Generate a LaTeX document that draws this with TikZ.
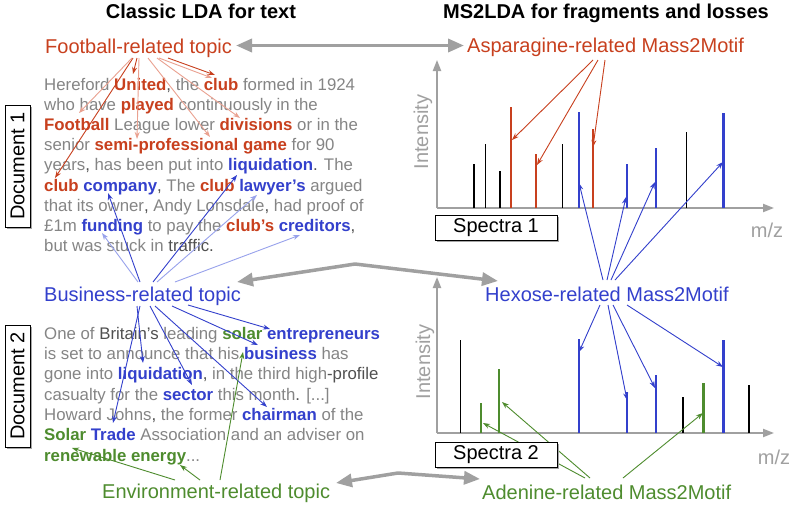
\documentclass[tikz,border=0pt]{standalone}
\usepackage{fontspec}
\setmainfont{Liberation Sans}
\usetikzlibrary{arrows.meta}
\definecolor{tgray}{HTML}{858585}
\definecolor{dkgray}{HTML}{505050}
\definecolor{myred}{HTML}{C8401E}
\definecolor{myblue}{HTML}{3340CC}
\definecolor{mygreen}{HTML}{4E8C2E}
\definecolor{palered}{HTML}{EAA190}
\definecolor{paleblue}{HTML}{98A2EC}
\definecolor{agray}{HTML}{A0A0A0}
\newcommand\rw[1]{\textcolor{myred}{\bfseries #1}}
\newcommand\bw[1]{\textcolor{myblue}{\bfseries #1}}
\newcommand\gw[1]{\textcolor{mygreen}{\bfseries #1}}
\newcommand\dk[1]{\textcolor{dkgray}{#1}}
\begin{document}
\begin{tikzpicture}[x=1pt,y=-1pt,
  txt/.style={anchor=base west,inner sep=0pt,font=\fontsize{16.8}{20}\selectfont,text=tgray},
  title/.style={anchor=base,inner sep=0pt,font=\fontsize{20}{24}\selectfont\bfseries},
  topic/.style={anchor=base west,inner sep=0pt,font=\fontsize{20}{24}\selectfont},
  lbl/.style={inner sep=0pt,font=\fontsize{20}{24}\selectfont},
  thin/.style={line width=0.9pt,-{Stealth[length=7pt,width=5pt]}},
  big/.style={draw=agray,line width=3.5pt,line join=round,{Triangle[length=16pt,width=13pt]}-{Triangle[length=16pt,width=13pt]}},
  axis/.style={draw=agray,line width=2pt,-{Triangle[length=11pt,width=8pt]}},
  bpk/.style={draw=black,line width=1.1pt},
  cpk/.style={line width=2.4pt},
  box/.style={draw=black,line width=0.8pt,fill=white,inner sep=0pt,font=\fontsize{20}{24}\selectfont},
  shadow/.style={fill=black!35},
]
\useasboundingbox (0,0) rectangle (793,504);
\fill[white] (0,0) rectangle (793,504);

% titles
\node[title] (t1) at (201,18.3) {Classic LDA for text};
\node[title] (t2) at (606,18.3) {MS2LDA for fragments and losses};

% topic labels
\node[topic,text=myred] (foot) at (45,53) {Football-related topic};
\node[topic,text=myblue] (bus) at (44,301) {Business-related topic};
\node[topic,text=mygreen] (env) at (102,498.5) {Environment-related topic};
\node[topic,text=myred] (asp) at (467,52.3) {Asparagine-related Mass2Motif};
\node[topic,text=myblue] (hex) at (485,301) {Hexose-related Mass2Motif};
\node[topic,text=mygreen] (ade) at (482,499.3) {Adenine-related Mass2Motif};

% document 1
\node[txt] (a1) at (44,90.5) {Hereford \rw{United}\dk{,} the \rw{club} formed in 1924};
\node[txt] (a2) at (44,110.6) {who have \rw{played} continuously in the};
\node[txt] (a3) at (44,130.7) {\rw{Football} League lower \rw{divisions} or in the};
\node[txt] (a4) at (44,150.8) {senior \rw{semi-professional game} for 90};
\node[txt] (a5) at (44,170.9) {years\dk{,} has been put into \bw{liquidation}\dk{.} The};
\node[txt] (a6) at (44,191.0) {\rw{club} \bw{company}\dk{,} The \rw{club} \bw{lawyer’s} argued};
\node[txt] (a7) at (44,211.1) {that its owner\dk{,} Andy Lonsdale\dk{,} had proof of};
\node[txt] (a8) at (44,231.2) {£1m \bw{funding} to pay the \rw{club’s} \bw{creditors}\dk{,}};
\node[txt] (a9) at (44,251.3) {but was stuck in \dk{traffic.}};

% document 2
\node[txt] (b1) at (44,339.3) {One of \dk{Britain’s} leading \gw{solar} \bw{entrepreneurs}};
\node[txt] (b2) at (44,359.6) {is set to announce that his \bw{business} has};
\node[txt] (b3) at (44,379.9) {gone into \bw{liquidation}\dk{,} in the third high\dk{-profile}};
\node[txt] (b4) at (44,400.1) {casualty for the \bw{sector} this month\dk{.} [...]};
\node[txt] (b5) at (44,420.4) {Howard Johns\dk{,} the former \bw{chairman} of the};
\node[txt] (b6) at (44,440.7) {\gw{Solar} \bw{Trade} Association and an adviser on};
\node[txt] (b7) at (44,461.0) {\gw{renewable energy}...};

% document boxes
\fill[shadow] (6.5,106.5) rectangle (31.5,228.5);
\node[box,rotate=90,minimum width=122pt,minimum height=25pt] (doc1) at (17.5,166) {Document 1};
\fill[shadow] (6.5,326.5) rectangle (31.5,448.5);
\node[box,rotate=90,minimum width=122pt,minimum height=25pt] (doc2) at (17.5,386) {Document 2};

% axes
\coordinate (o1) at (437,208); \coordinate (y1) at (437,60); \coordinate (x1) at (774,208);
\coordinate (o2) at (437,433); \coordinate (y2) at (437,277); \coordinate (x2) at (774,433);
\draw[axis] (o1) -- (y1);
\draw[axis] (o1) -- (x1);
\draw[axis] (o2) -- (y2);
\draw[axis] (o2) -- (x2);
\node[lbl,text=agray,rotate=90] (int1) at (423,132) {Intensity};
\node[lbl,text=agray,rotate=90] (int2) at (425,362) {Intensity};
\node[lbl,text=agray] (mz1) at (767,230) {m/z};
\node[lbl,text=agray] (mz2) at (774,457) {m/z};

% peaks spectrum 1
\foreach \x/\h in {474/164,485.7/144,500/171,562.7/144,686.3/132}
  \draw[bpk] (\x,208) -- (\x,\h);
\foreach \x/\h in {510.7/107,535.7/154,592.7/129}
  \draw[cpk,myred] (\x,208) -- (\x,\h);
\foreach \x/\h in {578.7/112,627/164,655.7/148,723.3/113}
  \draw[cpk,myblue] (\x,208) -- (\x,\h);
% peaks spectrum 2
\foreach \x/\h in {460.7/340,683/396.7,749/385}
  \draw[bpk] (\x,433) -- (\x,\h);
\foreach \x/\h in {481/402.7,498.7/369,703.3/383}
  \draw[cpk,mygreen] (\x,433) -- (\x,\h);
\foreach \x/\h in {578.7/339,627/391.7,655.7/375,723.3/340}
  \draw[cpk,myblue] (\x,433) -- (\x,\h);

% football arrows
\coordinate (f1) at (133,58); \coordinate (f2) at (137,58); \coordinate (f3) at (132,58);
\coordinate (f4) at (139,58); \coordinate (f5) at (148,58); \coordinate (f6) at (157,58);
\coordinate (f7) at (159,58); \coordinate (f8) at (168,58);
\coordinate (wclub6) at (55,178); \coordinate (wunited) at (133,74);
\coordinate (wfootball) at (79,113); \coordinate (wsemi) at (137,139);
\coordinate (wgame) at (210,137); \coordinate (wdiv) at (240,118);
\coordinate (wclubA) at (212,78); \coordinate (wclubB) at (215,75);
\draw[thin,myred] (f1) -- (wclub6);
\draw[thin,myred] (f2) -- (wunited);
\draw[thin,palered] (f3) -- (wfootball);
\draw[thin,palered] (f4) -- (wsemi);
\draw[thin,palered] (f5) -- (wgame);
\draw[thin,palered] (f6) -- (wdiv);
\draw[thin,palered] (f7) -- (wclubA);
\draw[thin,myred] (f8) -- (wclubB);

% business arrows (doc 1)
\coordinate (g1) at (138,282); \coordinate (g2) at (140,282); \coordinate (g3) at (153,282);
\coordinate (g4) at (157,282); \coordinate (g5) at (175,282);
\coordinate (wfund) at (102,233); \coordinate (wcomp) at (108,193);
\coordinate (wliq) at (237,175); \coordinate (wlaw) at (257,195); \coordinate (wcred) at (300,235);
\draw[thin,paleblue] (g1) -- (wfund);
\draw[thin,myblue] (g2) -- (wcomp);
\draw[thin,myblue] (g3) -- (wliq);
\draw[thin,paleblue] (g4) -- (wlaw);
\draw[thin,paleblue] (g5) -- (wcred);

% business arrows (doc 2)
\coordinate (h1) at (188,305); \coordinate (h2) at (172,306); \coordinate (h3) at (137,306);
\coordinate (h4) at (150,306); \coordinate (h5) at (155,306); \coordinate (h6) at (140,306);
\coordinate (wentr) at (270,329); \coordinate (wbus) at (258,345); \coordinate (wliq2) at (143,363);
\coordinate (wsec) at (192,385); \coordinate (wchair) at (267,407); \coordinate (wtrade) at (113,423);
\draw[thin,myblue] (h1) -- (wentr);
\draw[thin,myblue] (h2) -- (wbus);
\draw[thin,myblue] (h3) -- (wliq2);
\draw[thin,myblue] (h4) -- (wsec);
\draw[thin,myblue] (h5) -- (wchair);
\draw[thin,myblue] (h6) -- (wtrade);

% environment arrows
\coordinate (e1) at (175,480); \coordinate (e2) at (200,480); \coordinate (e3) at (220,480);
\coordinate (wren) at (72,448); \coordinate (wen) at (180,465); \coordinate (wsol) at (243,352);
\draw[thin,mygreen] (e1) -- (wren);
\draw[thin,mygreen] (e2) -- (wen);
\draw[thin,mygreen] (e3) -- (wsol);

% asparagine arrows
\coordinate (p1) at (593,60); \coordinate (p2) at (598,60); \coordinate (p3) at (605,60);
\draw[thin,myred] (p1) -- (512,140);
\draw[thin,myred] (p2) -- (537,165);
\draw[thin,myred] (p3) -- (593,147);

% hexose arrows up (spectrum 1)
\coordinate (q1) at (603,280); \coordinate (q2) at (607,280);
\coordinate (q3) at (611,280); \coordinate (q4) at (615,280);
\draw[thin,myblue] (q1) -- (579,183);
\draw[thin,myblue] (q2) -- (626,197);
\draw[thin,myblue] (q3) -- (655,182);
\draw[thin,myblue] (q4) -- (723,162);
% hexose arrows down (spectrum 2)
\coordinate (r1) at (600,305); \coordinate (r2) at (608,305);
\coordinate (r3) at (613,305); \coordinate (r4) at (627,305);
\draw[thin,myblue] (r1) -- (579,352);
\draw[thin,myblue] (r2) -- (627,400);
\draw[thin,myblue] (r3) -- (655,388);
\draw[thin,myblue] (r4) -- (723,367);

% adenine arrows
\coordinate (s1) at (585,478); \coordinate (s2) at (590,478); \coordinate (s3) at (623,478);
\draw[thin,mygreen] (s1) -- (483,423);
\draw[thin,mygreen] (s2) -- (502,402);
\draw[thin,mygreen] (s3) -- (703,413);

% spectra boxes
\fill[shadow] (436.5,216.5) rectangle (558.5,241.5);
\node[box,minimum width=122pt,minimum height=25pt] (sp1) at (496,228) {Spectra 1};
\fill[shadow] (436.5,443.5) rectangle (558.5,468.5);
\node[box,minimum width=122pt,minimum height=25pt] (sp2) at (496,455) {Spectra 2};

% big grey arrows
\coordinate (ga) at (236,45.5); \coordinate (gb) at (464,45.5);
\draw[big] (ga) -- (gb);
\coordinate (gc) at (237,282); \coordinate (gd) at (355,264); \coordinate (ge) at (498,281);
\draw[big] (gc) -- (gd) -- (ge);
\coordinate (gf) at (336,483); \coordinate (gg) at (398,473); \coordinate (gh) at (480,479);
\draw[big] (gf) -- (gg) -- (gh);
\end{tikzpicture}
\end{document}
